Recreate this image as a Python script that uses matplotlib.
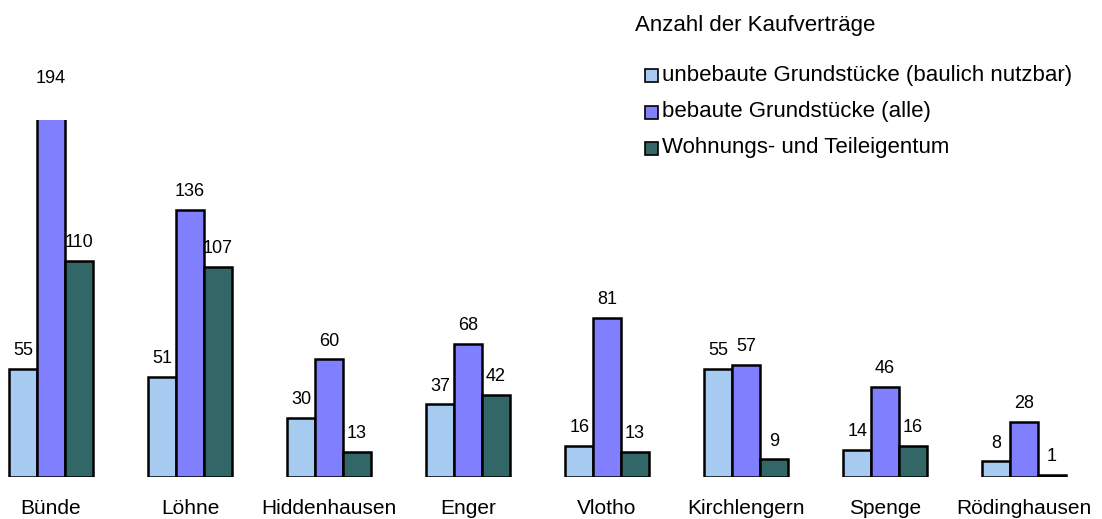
#!/usr/bin/env python3
"""Grouped bar chart: Anzahl der Kaufverträge je Gemeinde."""

import matplotlib

matplotlib.use("Agg")
import matplotlib.pyplot as plt
import numpy as np
from matplotlib.patches import Rectangle

plt.rcParams["font.family"] = ["Liberation Sans", "DejaVu Sans"]

orte = ["Bünde", "Löhne", "Hiddenhausen", "Enger", "Vlotho",
        "Kirchlengern", "Spenge", "Rödinghausen"]
unbebaut = [55, 51, 30, 37, 16, 55, 14, 8]
bebaut = [194, 136, 60, 68, 81, 57, 46, 28]
wohnung = [110, 107, 13, 42, 13, 9, 16, 1]

serien = [
    ("unbebaute Grundstücke (baulich nutzbar)", unbebaut, "#a6caf0"),
    ("bebaute Grundstücke (alle)", bebaut, "#8080ff"),
    ("Wohnungs- und Teileigentum", wohnung, "#336666"),
]

W, H = 1102, 519


def main() -> None:
    fig = plt.figure(figsize=(W / 100, H / 100), dpi=100)
    ax = fig.add_axes([0, 1 - 477 / H, 1, (477 - 120) / H])

    x = np.arange(len(orte))
    width = 0.2
    for k, (name, werte, farbe) in enumerate(serien):
        pos = x + (k - 1) * width
        ax.bar(pos, werte, width=width, color=farbe, edgecolor="black",
               linewidth=1.8, label=name)
        for px, v in zip(pos, werte):
            ax.text(px, v + 5, str(v), ha="center", va="bottom",
                    fontsize=13, clip_on=False)

    ax.set_xlim(-0.367, 7.561)
    ax.set_ylim(0, 182)
    ax.axis("off")

    for px, name in zip(x, orte):
        ax.text(px, -11, name, ha="center", va="top", fontsize=15,
                clip_on=False)

    # legend drawn by hand so the spacing matches the original
    fig.text(635 / W, 1 - 25 / H, "Anzahl der Kaufverträge", ha="left",
             va="center", fontsize=16)
    for k, (name, _, farbe) in enumerate(serien):
        yc = 75 + 36.5 * k
        fig.patches.append(Rectangle((645 / W, 1 - (yc + 7) / H), 13 / W, 13 / H,
                                     transform=fig.transFigure, facecolor=farbe,
                                     edgecolor="black", linewidth=1.2))
        fig.text(662 / W, 1 - yc / H, name, ha="left", va="center", fontsize=16)

    fig.savefig("out.png", dpi=100)
    plt.close(fig)


if __name__ == "__main__":
    main()
